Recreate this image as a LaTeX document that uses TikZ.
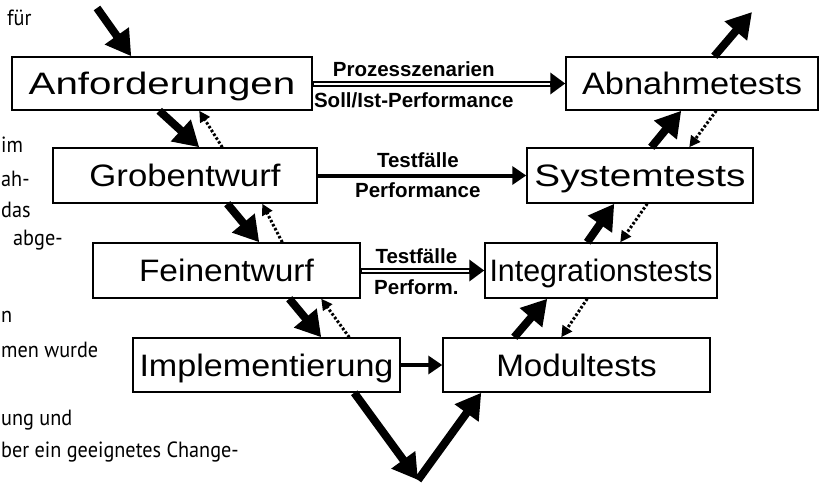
\documentclass[tikz,border=0pt]{standalone}
\usepackage{fontspec}
\setsansfont{Liberation Sans}
\newfontfamily\seitenfont[FakeStretch=0.92]{PT Sans}
\usepackage{graphicx}
\usetikzlibrary{arrows.meta,calc,positioning}

\newcommand{\breit}[2]{\scalebox{#1}[1]{#2}}

\begin{document}
\begin{tikzpicture}[x=1pt,y=-1pt,
    box/.style={draw,line width=1.5pt,fill=white,inner sep=0pt,text height=22pt,text depth=0pt,
      font=\sffamily\fontsize{31}{36}\selectfont},
    vpfeil/.style={line width=8pt,-{Triangle[length=25pt,width=28pt]}},
    rueck/.style={line width=3pt,dash pattern=on 2.5pt off 2pt,-{Triangle[length=11pt,width=11pt]}},
    quer/.style={line width=4pt,-{Triangle[length=14pt,width=18pt]}},
    doppel/.style={line width=6pt,-{Triangle[length=15pt,width=21pt]}},
    innen/.style={white,line width=2pt,shorten <=1pt,shorten >=15pt},
    lbl/.style={font=\sffamily\bfseries\fontsize{20.5}{24}\selectfont,inner sep=2pt},
    seite/.style={inner sep=0pt,font=\seitenfont\fontsize{22}{26}\selectfont}]

    \fill[white] (0,0) rectangle (824,482);
    \useasboundingbox (0,0) rectangle (824,482);

    % Textreste der Seite
    \node[seite,anchor=base west] (t1) at (7,25) {für};
    \node[seite,anchor=base west] (t2) at (1,152) {im};
    \node[seite,anchor=base west] (t3) at (1,186) {ah-};
    \node[seite,anchor=base west] (t4) at (1,217) {das};
    \node[seite,anchor=base west] (t5) at (13,245) {abge-};
    \node[seite,anchor=base west] (t6) at (1,322) {n};
    \node[seite,anchor=base west] (t7) at (1,357) {men wurde};
    \node[seite,anchor=base west] (t8) at (1,425) {ung und};
    \node[seite,anchor=base west] (t9) at (1,457) {ber ein geeignetes Change-};

    % linker Ast
    \node[box,minimum width=300pt,minimum height=53pt] (anf) at (162,83.5) {\breit{1.3}{Anforderungen}};
    \node[box,minimum width=264pt,minimum height=55pt] (grob) at (185,175.5) {\breit{1.12}{Grobentwurf}};
    \node[box,minimum width=267pt,minimum height=55pt] (fein) at (226.5,270.5) {\breit{1.08}{Feinentwurf}};
    \node[box,minimum width=267pt,minimum height=54pt] (impl) at (266.5,365) {\breit{1.1}{Implementierung}};
    % rechter Ast
    \node[box,minimum width=252pt,minimum height=53pt] (abn) at (692,83.5) {\breit{1.11}{Abnahmetests}};
    \node[box,minimum width=226pt,minimum height=55pt] (sys) at (640,175.5) {\breit{1.25}{Systemtests}};
    \node[box,minimum width=232pt,minimum height=55pt] (integ) at (601,270.5) {\breit{0.98}{Integrationstests}};
    \node[box,minimum width=267pt,minimum height=54pt] (modul) at (576.5,365) {\breit{1.07}{Modultests}};

    \coordinate (vin) at (97,8);
    \coordinate (vbot) at (418,480);
    \coordinate (vout) at (752,12);

    % das V
    \draw[vpfeil] (vin) -- ([xshift=120pt]anf.north west);
    \draw[vpfeil] ([xshift=148pt]anf.south west) -- ([xshift=147pt]grob.north west);
    \draw[vpfeil] ([xshift=175pt]grob.south west) -- ([xshift=167pt]fein.north west);
    \draw[vpfeil] ([xshift=197pt]fein.south west) -- ([xshift=189pt]impl.north west);
    \draw[vpfeil] ([xshift=222pt]impl.south west) -- (vbot);
    \draw[vpfeil] (vbot) -- ([xshift=39pt]modul.south west);
    \draw[vpfeil] ([xshift=72pt]modul.north west) -- ([xshift=63pt]integ.south west);
    \draw[vpfeil] ([xshift=103pt]integ.north west) -- ([xshift=88pt]sys.south west);
    \draw[vpfeil] ([xshift=125pt]sys.north west) -- ([xshift=116pt]abn.south west);
    \draw[vpfeil] ([xshift=149pt]abn.north west) -- (vout);

    % Rueckkopplung
    \draw[rueck] ([xshift=170pt]grob.north west) -- ([xshift=188pt]anf.south west);
    \draw[rueck] ([xshift=190pt]fein.north west) -- ([xshift=210pt]grob.south west);
    \draw[rueck] ([xshift=217pt]impl.north west) -- ([xshift=229pt]fein.south west);
    \draw[rueck] ([xshift=151pt]abn.south west) -- ([xshift=163pt]sys.north west);
    \draw[rueck] ([xshift=121pt]sys.south west) -- ([xshift=136pt]integ.north west);
    \draw[rueck] ([xshift=103pt]integ.south west) -- ([xshift=119pt]modul.north west);

    % Querverbindungen
    \draw[doppel] (anf) -- (abn)
      node[lbl,pos=0.4,above=2pt] (l1) {Prozesszenarien}
      node[lbl,pos=0.4,below=4pt] (l2) {Soll/Ist-Performance};
    \draw[innen] (anf) -- (abn);
    \draw[quer] (grob) -- (sys)
      node[lbl,pos=0.48,above=4pt] (l3) {Testfälle}
      node[lbl,pos=0.48,below=3pt] (l4) {Performance};
    \draw[doppel] (fein) -- (integ)
      node[lbl,pos=0.45,above=2pt] (l5) {Testfälle}
      node[lbl,pos=0.45,below=4pt] (l6) {Perform.};
    \draw[innen] (fein) -- (integ);
    \draw[quer] (impl) -- (modul);
\end{tikzpicture}
\end{document}
